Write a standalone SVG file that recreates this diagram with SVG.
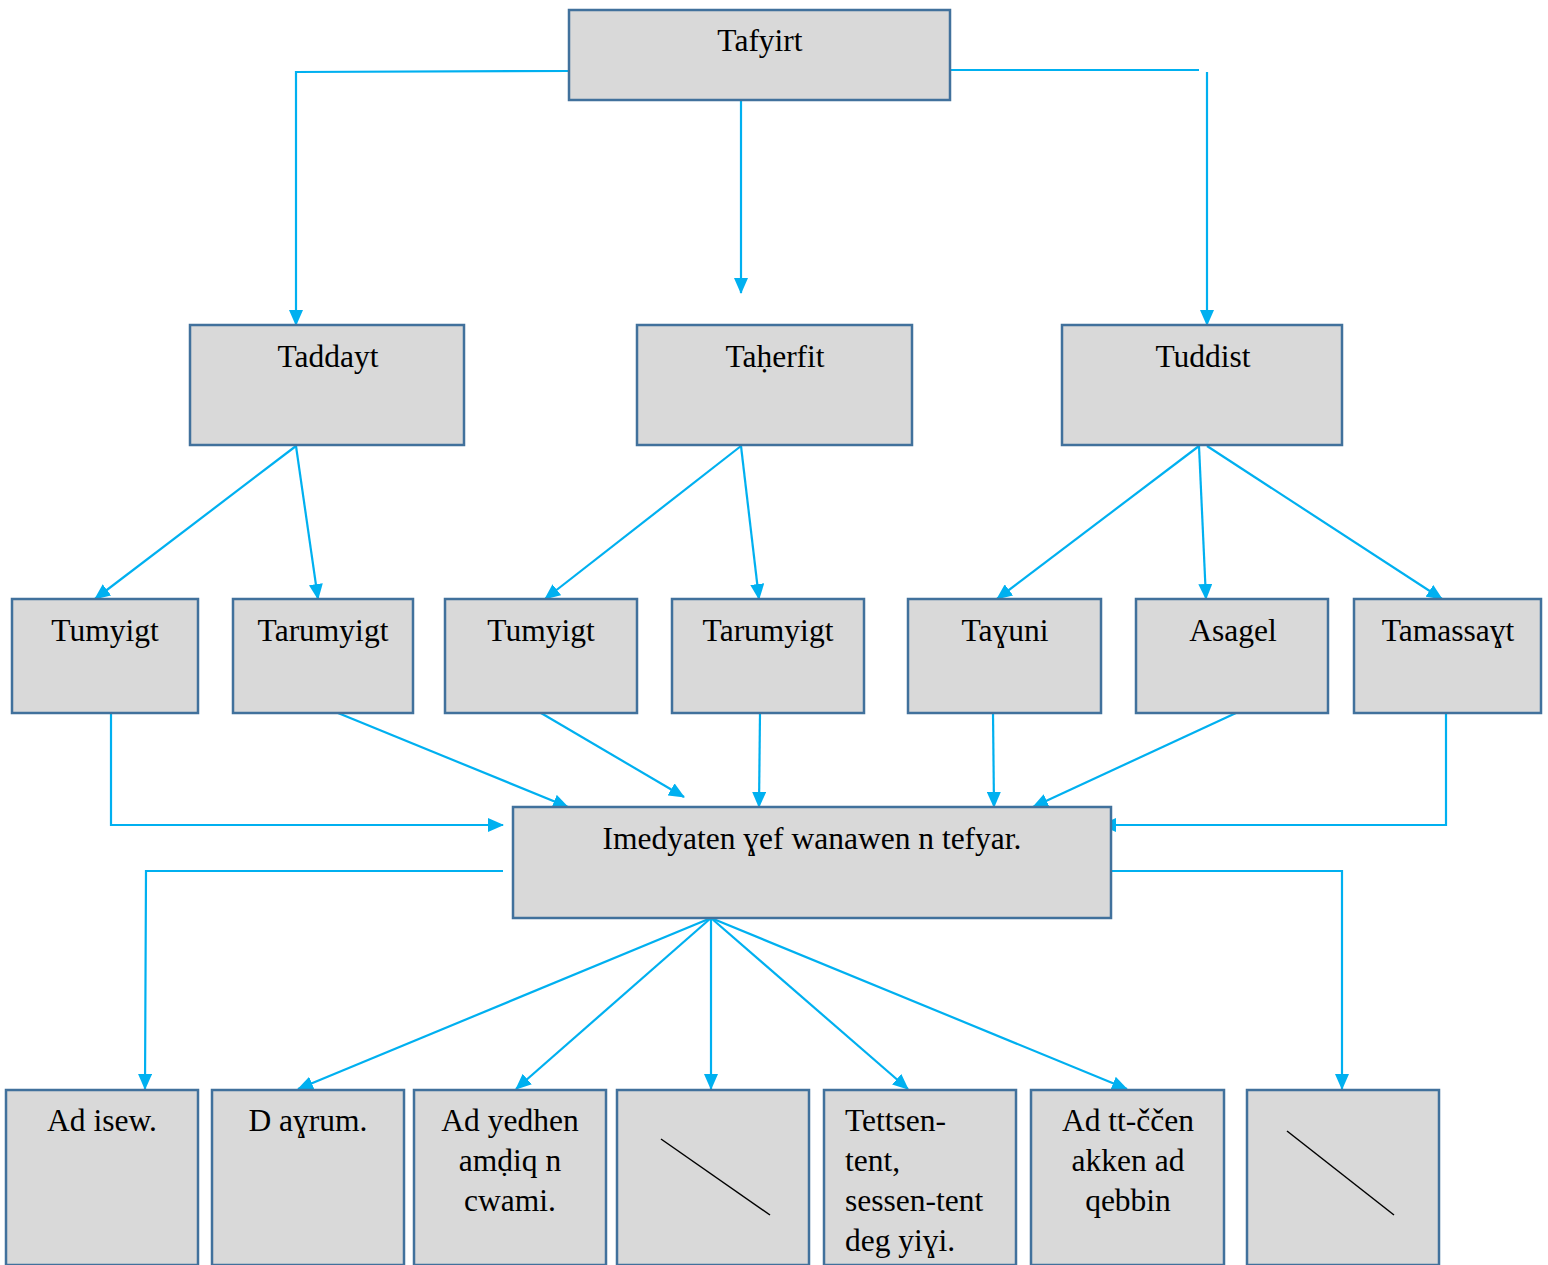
<svg xmlns="http://www.w3.org/2000/svg" width="1548" height="1265" viewBox="0 0 1548 1265">
<style>
.box{fill:#D9D9D9;stroke:#41719C;stroke-width:2.5}
.t{font-family:"Liberation Serif","Times New Roman",serif;font-size:31.5px;fill:#000;text-anchor:middle}
.tl{font-family:"Liberation Serif","Times New Roman",serif;font-size:31.5px;fill:#000}
.c{fill:none;stroke:#00B0F0;stroke-width:2.2}
.c2{fill:none;stroke:#00B0F0;stroke-width:2.2;marker-end:url(#ah)}
.d{stroke:#000;stroke-width:1.5}
</style>
<defs>
<marker id="ah" markerUnits="userSpaceOnUse" markerWidth="16" markerHeight="14" refX="15" refY="7" orient="auto">
<path d="M0,0 L16,7 L0,14 z" fill="#00B0F0"/>
</marker>
</defs>
<rect width="1548" height="1265" fill="#fff"/>
<g id="connectors">
<polyline class="c2" points="569,71 296,72 296,325"/>
<line class="c2" x1="741" y1="100" x2="741" y2="293"/>
<polyline class="c" points="950,70 1199,70"/>
<line class="c2" x1="1207" y1="72" x2="1207" y2="325"/>
<line class="c2" x1="296" y1="446" x2="95" y2="599"/>
<line class="c2" x1="296" y1="446" x2="318" y2="599"/>
<line class="c2" x1="741" y1="446" x2="545" y2="599"/>
<line class="c2" x1="741" y1="446" x2="759" y2="599"/>
<line class="c2" x1="1199" y1="446" x2="997" y2="599"/>
<line class="c2" x1="1199" y1="446" x2="1206" y2="599"/>
<line class="c2" x1="1207" y1="446" x2="1442" y2="599"/>
<polyline class="c2" points="111,713 111,825 503,825"/>
<line class="c2" x1="338" y1="713" x2="568" y2="807"/>
<line class="c2" x1="541" y1="713" x2="684" y2="797"/>
<line class="c2" x1="760" y1="713" x2="759" y2="807"/>
<line class="c2" x1="993" y1="713" x2="994" y2="807"/>
<line class="c2" x1="1236" y1="713" x2="1033" y2="807"/>
<polyline class="c2" points="1446,713 1446,825 1101,825"/>
<polyline class="c2" points="503,871 146,871 145,1089"/>
<polyline class="c2" points="1101,871 1342,871 1342,1089"/>
<line class="c2" x1="711" y1="918" x2="298" y2="1089"/>
<line class="c2" x1="711" y1="918" x2="516" y2="1089"/>
<line class="c2" x1="711" y1="918" x2="711" y2="1089"/>
<line class="c2" x1="711" y1="918" x2="908" y2="1089"/>
<line class="c2" x1="711" y1="918" x2="1127" y2="1089"/>
</g>
<g id="tafyirt"><rect class="box" x="569" y="10" width="381" height="90"/><text class="t" x="760" y="51">Tafyirt</text></g>
<g id="taddayt"><rect class="box" x="190" y="325" width="274" height="120"/><text class="t" x="328" y="367">Taddayt</text></g>
<g id="taherfit"><rect class="box" x="637" y="325" width="275" height="120"/><text class="t" x="775" y="367">Taḥerfit</text></g>
<g id="tuddist"><rect class="box" x="1062" y="325" width="280" height="120"/><text class="t" x="1203" y="367">Tuddist</text></g>
<g id="tumyigt1"><rect class="box" x="12" y="599" width="186" height="114"/><text class="t" x="105" y="641">Tumyigt</text></g>
<g id="tarumyigt1"><rect class="box" x="233" y="599" width="180" height="114"/><text class="t" x="323" y="641">Tarumyigt</text></g>
<g id="tumyigt2"><rect class="box" x="445" y="599" width="192" height="114"/><text class="t" x="541" y="641">Tumyigt</text></g>
<g id="tarumyigt2"><rect class="box" x="672" y="599" width="192" height="114"/><text class="t" x="768" y="641">Tarumyigt</text></g>
<g id="tayuni"><rect class="box" x="908" y="599" width="193" height="114"/><text class="t" x="1005" y="641">Taɣuni</text></g>
<g id="asagel"><rect class="box" x="1136" y="599" width="192" height="114"/><text class="t" x="1233" y="641">Asagel</text></g>
<g id="tamassayt"><rect class="box" x="1354" y="599" width="187" height="114"/><text class="t" x="1448" y="641">Tamassaɣt</text></g>
<g id="imedyaten"><rect class="box" x="513" y="807" width="598" height="111"/><text class="t" x="812" y="849">Imedyaten ɣef wanawen n tefyar.</text></g>
<g id="adisew"><rect class="box" x="6" y="1090" width="192" height="175"/><text class="t" x="102" y="1131">Ad isew.</text></g>
<g id="dayrum"><rect class="box" x="212" y="1090" width="192" height="175"/><text class="t" x="308" y="1131">D aɣrum.</text></g>
<g id="adyedhen"><rect class="box" x="414" y="1090" width="192" height="175"/><text class="t" x="510" y="1131"><tspan x="510" y="1131">Ad yedhen</tspan><tspan x="510" y="1171">amḍiq n</tspan><tspan x="510" y="1211">cwami.</tspan></text></g>
<g id="empty1"><rect class="box" x="617" y="1090" width="192" height="175"/><line class="d" x1="661" y1="1139" x2="770" y2="1215"/></g>
<g id="tettsen"><rect class="box" x="824" y="1090" width="192" height="175"/><text class="tl" x="845" y="1131"><tspan x="845" y="1131">Tettsen-</tspan><tspan x="845" y="1171">tent,</tspan><tspan x="845" y="1211">sessen-tent</tspan><tspan x="845" y="1251">deg yiɣi.</tspan></text></g>
<g id="adttccen"><rect class="box" x="1031" y="1090" width="193" height="175"/><text class="t" x="1128" y="1131"><tspan x="1128" y="1131">Ad tt-ččen</tspan><tspan x="1128" y="1171">akken ad</tspan><tspan x="1128" y="1211">qebbin</tspan></text></g>
<g id="empty2"><rect class="box" x="1247" y="1090" width="192" height="175"/><line class="d" x1="1287" y1="1131" x2="1394" y2="1215"/></g>
</svg>
